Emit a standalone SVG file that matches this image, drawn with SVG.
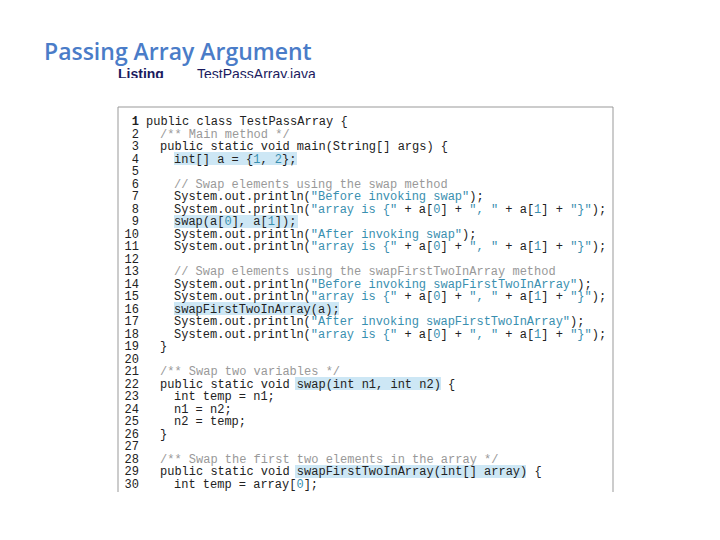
<svg xmlns="http://www.w3.org/2000/svg" width="720" height="540" viewBox="0 0 720 540">
<style>
.c{font-family:"Liberation Mono","DejaVu Sans Mono",monospace;font-size:12px;fill:#222;white-space:pre}
.n{font-family:"Liberation Mono","DejaVu Sans Mono",monospace;font-size:12px;fill:#222;text-anchor:end}
.cm{fill:#999}.s{fill:#3a8fb0}
.hl{fill:#cde7f5}
</style>
<defs><clipPath id="cl"><rect x="0" y="60" width="720" height="18"/></clipPath></defs>
<rect width="720" height="540" fill="#fff"/>
<g id="title"><text x="44" y="60" font-family="Open Sans,Liberation Sans,sans-serif" font-size="23" font-weight="600" fill="#4a7cc8">Passing Array Argument</text></g>
<g id="listing" clip-path="url(#cl)" font-family="Liberation Sans,sans-serif" font-size="14" font-weight="bold" fill="#1a1a5e">
<text x="118" y="79">Listing</text><text x="197" y="79" font-weight="normal">TestPassArray.java</text></g>
<g id="box">
<path d="M118 492V107H613V492" fill="none" stroke="#999" stroke-width="1"/>
<rect class="hl" x="174" y="152" width="123" height="13"/>
<rect class="hl" x="174" y="215" width="124" height="13"/>
<rect class="hl" x="174" y="302" width="165" height="13"/>
<rect class="hl" x="295" y="377" width="146" height="13"/>
<rect class="hl" x="295" y="465" width="231" height="13"/>
</g>
<g id="nums">
<text class="n" x="139" y="125" font-weight="bold">1</text>
<text class="n" x="139" y="137.5">2</text><text class="n" x="139" y="150">3</text><text class="n" x="139" y="162.5">4</text>
<text class="n" x="139" y="175">5</text><text class="n" x="139" y="187.5">6</text><text class="n" x="139" y="200">7</text>
<text class="n" x="139" y="212.5">8</text><text class="n" x="139" y="225">9</text><text class="n" x="139" y="237.5">10</text>
<text class="n" x="139" y="250">11</text><text class="n" x="139" y="262.5">12</text><text class="n" x="139" y="275">13</text>
<text class="n" x="139" y="287.5">14</text><text class="n" x="139" y="300">15</text><text class="n" x="139" y="312.5">16</text>
<text class="n" x="139" y="325">17</text><text class="n" x="139" y="337.5">18</text><text class="n" x="139" y="350">19</text>
<text class="n" x="139" y="362.5">20</text><text class="n" x="139" y="375">21</text><text class="n" x="139" y="387.5">22</text>
<text class="n" x="139" y="400">23</text><text class="n" x="139" y="412.5">24</text><text class="n" x="139" y="425">25</text>
<text class="n" x="139" y="437.5">26</text><text class="n" x="139" y="450">27</text><text class="n" x="139" y="462.5">28</text>
<text class="n" x="139" y="475">29</text><text class="n" x="139" y="487.5">30</text>
</g>
<g id="code">
<text class="c" x="146" y="125">public class TestPassArray {</text>
<text class="c" x="160" y="137.5"><tspan class="cm">/** Main method */</tspan></text>
<text class="c" x="160" y="150">public static void main(String[] args) {</text>
<text class="c" x="174" y="162.5">int[] a = {<tspan class="s">1</tspan>, <tspan class="s">2</tspan>};</text>
<text class="c" x="174" y="187.5"><tspan class="cm">// Swap elements using the swap method</tspan></text>
<text class="c" x="174" y="200">System.out.println(<tspan class="s">"Before invoking swap"</tspan>);</text>
<text class="c" x="174" y="212.5">System.out.println(<tspan class="s">"array is {"</tspan> + a[<tspan class="s">0</tspan>] + <tspan class="s">", "</tspan> + a[<tspan class="s">1</tspan>] + <tspan class="s">"}"</tspan>);</text>
<text class="c" x="174" y="225">swap(a[<tspan class="s">0</tspan>], a[<tspan class="s">1</tspan>]);</text>
<text class="c" x="174" y="237.5">System.out.println(<tspan class="s">"After invoking swap"</tspan>);</text>
<text class="c" x="174" y="250">System.out.println(<tspan class="s">"array is {"</tspan> + a[<tspan class="s">0</tspan>] + <tspan class="s">", "</tspan> + a[<tspan class="s">1</tspan>] + <tspan class="s">"}"</tspan>);</text>
<text class="c" x="174" y="275"><tspan class="cm">// Swap elements using the swapFirstTwoInArray method</tspan></text>
<text class="c" x="174" y="287.5">System.out.println(<tspan class="s">"Before invoking swapFirstTwoInArray"</tspan>);</text>
<text class="c" x="174" y="300">System.out.println(<tspan class="s">"array is {"</tspan> + a[<tspan class="s">0</tspan>] + <tspan class="s">", "</tspan> + a[<tspan class="s">1</tspan>] + <tspan class="s">"}"</tspan>);</text>
<text class="c" x="174" y="312.5">swapFirstTwoInArray(a);</text>
<text class="c" x="174" y="325">System.out.println(<tspan class="s">"After invoking swapFirstTwoInArray"</tspan>);</text>
<text class="c" x="174" y="337.5">System.out.println(<tspan class="s">"array is {"</tspan> + a[<tspan class="s">0</tspan>] + <tspan class="s">", "</tspan> + a[<tspan class="s">1</tspan>] + <tspan class="s">"}"</tspan>);</text>
<text class="c" x="160" y="350">}</text>
<text class="c" x="160" y="375"><tspan class="cm">/** Swap two variables */</tspan></text>
<text class="c" x="160" y="387.5">public static void swap(int n1, int n2) {</text>
<text class="c" x="174" y="400">int temp = n1;</text>
<text class="c" x="174" y="412.5">n1 = n2;</text>
<text class="c" x="174" y="425">n2 = temp;</text>
<text class="c" x="160" y="437.5">}</text>
<text class="c" x="160" y="462.5"><tspan class="cm">/** Swap the first two elements in the array */</tspan></text>
<text class="c" x="160" y="475">public static void swapFirstTwoInArray(int[] array) {</text>
<text class="c" x="174" y="487.5">int temp = array[<tspan class="s">0</tspan>];</text>
</g>
</svg>
